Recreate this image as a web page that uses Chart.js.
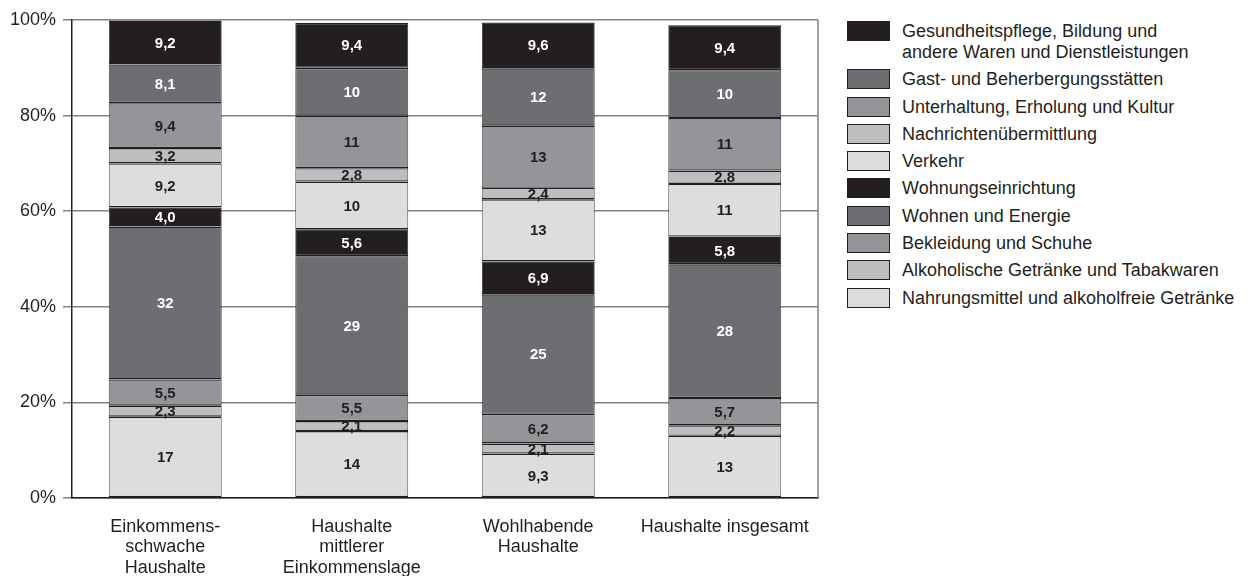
<!DOCTYPE html>
<html lang="de">
<head>
<meta charset="utf-8">
<title>Konsumausgaben nach Haushaltstyp</title>
<script src="https://cdn.jsdelivr.net/npm/chart.js@4/dist/chart.umd.min.js"></script>
<style>
  html, body { margin: 0; padding: 0; background: #fff; }
  #wrap { position: relative; width: 1247px; height: 576px; font-family: "Liberation Sans", Arial, Helvetica, sans-serif; color: #231f20; }
  #chartBox { position: absolute; left: 0; top: 0; width: 830px; height: 576px; }
  #legend { position: absolute; left: 847px; top: 21px; margin: 0; padding: 0; list-style: none; font-size: 18px; line-height: 21px; white-space: nowrap; }
  #legend li { display: flex; align-items: flex-start; margin-bottom: 6.3px; }
  #legend .box { width: 41px; height: 18px; border: 1px solid #231f20; margin-right: 12px; flex: none; }
</style>
</head>
<body>
<div id="wrap">
  <div id="chartBox"><canvas id="spendChart"></canvas></div>
  <ul id="legend"></ul>
</div>
<script>
'use strict';

// ── Data ─────────────────────────────────────────────────────────────
const CATEGORIES = [
  ['Einkommens-', 'schwache', 'Haushalte'],
  ['Haushalte', 'mittlerer', 'Einkommenslage'],
  ['Wohlhabende', 'Haushalte'],
  ['Haushalte insgesamt'],
];

// stacked bottom → top
const SERIES_NAMES = [
  'Nahrungsmittel und alkoholfreie Getränke',
  'Alkoholische Getränke und Tabakwaren',
  'Bekleidung und Schuhe',
  'Wohnen und Energie',
  'Wohnungseinrichtung',
  'Verkehr',
  'Nachrichtenübermittlung',
  'Unterhaltung, Erholung und Kultur',
  'Gast- und Beherbergungsstätten',
  ['Gesundheitspflege, Bildung und', 'andere Waren und Dienstleistungen'],
];

const nahrung       = [17, 14, 9.3, 13];
const alkohol       = [2.3, 2.1, 2.1, 2.2];
const bekleidung    = [5.5, 5.5, 6.2, 5.7];
const wohnen        = [32, 29, 25, 28];
const einrichtung   = [4.0, 5.6, 6.9, 5.8];
const verkehr       = [9.2, 10, 13, 11];
const nachrichten   = [3.2, 2.8, 2.4, 2.8];
const unterhaltung  = [9.4, 11, 13, 11];
const gast          = [8.1, 10, 12, 10];
const gesundheit    = [9.2, 9.4, 9.6, 9.4];

const SERIES_VALUES = [nahrung, alkohol, bekleidung, wohnen, einrichtung,
                       verkehr, nachrichten, unterhaltung, gast, gesundheit];

const Y_TICKS = [0, 20, 40, 60, 80, 100];

// ── Styling ──────────────────────────────────────────────────────────
const INK = '#231f20';
const SHADES = ['#dcddde', '#bcbec0', '#939598', '#6d6e71', '#231f20',
                '#dcddde', '#bcbec0', '#939598', '#6d6e71', '#231f20'];
const LABEL_INK = ['#231f20', '#231f20', '#231f20', '#ffffff', '#ffffff',
                   '#231f20', '#231f20', '#231f20', '#ffffff', '#ffffff'];
const FONT = '"Liberation Sans", Arial, Helvetica, sans-serif';

Chart.defaults.font.family = FONT;
Chart.defaults.color = INK;

function fmtValue(v) {
  return v < 10 ? v.toFixed(1).replace('.', ',') : String(v);
}

// value labels centred in each segment
const segmentLabels = {
  id: 'segmentLabels',
  afterDatasetsDraw(chart) {
    const ctx = chart.ctx;
    ctx.save();
    ctx.font = `bold 15px ${FONT}`;
    ctx.textAlign = 'center';
    ctx.textBaseline = 'middle';
    chart.data.datasets.forEach((ds, i) => {
      const meta = chart.getDatasetMeta(i);
      ctx.fillStyle = LABEL_INK[i];
      meta.data.forEach((bar, j) => {
        const { x, y, base } = bar.getProps(['x', 'y', 'base'], true);
        ctx.fillText(fmtValue(ds.data[j]), x, (y + base) / 2 + 1);
      });
    });
    ctx.restore();
  },
};

// thin grey frame line on the right of the plot
const rightFrame = {
  id: 'rightFrame',
  beforeDatasetsDraw(chart) {
    const { ctx, chartArea: a } = chart;
    ctx.save();
    ctx.strokeStyle = '#808285';
    ctx.lineWidth = 1.5;
    ctx.beginPath();
    ctx.moveTo(a.right, a.top);
    ctx.lineTo(a.right, a.bottom);
    ctx.stroke();
    ctx.restore();
  },
};

const datasets = SERIES_NAMES.map((name, i) => ({
  label: Array.isArray(name) ? name.join(' ') : name,
  data: SERIES_VALUES[i],
  backgroundColor: SHADES[i],
  borderColor: INK,
  borderWidth: { top: 1.4, bottom: 1.4, left: 0.8, right: 0.8 },
  borderSkipped: false,
  barPercentage: 0.605,
  categoryPercentage: 1,
}));

new Chart(document.getElementById('spendChart'), {
  type: 'bar',
  data: { labels: CATEGORIES, datasets },
  options: {
    responsive: true,
    maintainAspectRatio: false,
    animation: false,
    layout: { padding: { top: 20, right: 12, left: 0, bottom: 0 } },
    plugins: {
      legend: { display: false },
      tooltip: { enabled: false },
    },
    scales: {
      x: {
        stacked: true,
        grid: { display: false },
        border: { color: INK, width: 1.5 },
        ticks: { padding: 11, font: { size: 18, lineHeight: 1.13 }, maxRotation: 0, autoSkip: false },
        afterFit(scale) { scale.height = 78; },
      },
      y: {
        stacked: true,
        min: 0,
        max: 100,
        afterBuildTicks(scale) { scale.ticks = Y_TICKS.map(v => ({ value: v })); },
        grid: { color: '#808285', lineWidth: 1.5, tickLength: 9 },
        border: { color: INK, width: 1.5 },
        ticks: { padding: 7, font: { size: 18 }, callback: v => `${v}%` },
        afterFit(scale) { scale.width = 72; },
      },
    },
  },
  plugins: [rightFrame, segmentLabels],
});

// ── Legend (top entry first) ─────────────────────────────────────────
const legend = document.getElementById('legend');
for (let i = SERIES_NAMES.length - 1; i >= 0; i--) {
  const name = SERIES_NAMES[i];
  const li = document.createElement('li');
  const box = document.createElement('span');
  box.className = 'box';
  box.style.background = SHADES[i];
  const text = document.createElement('span');
  text.innerHTML = (Array.isArray(name) ? name : [name]).join('<br>');
  li.append(box, text);
  legend.append(li);
}
</script>
</body>
</html>
